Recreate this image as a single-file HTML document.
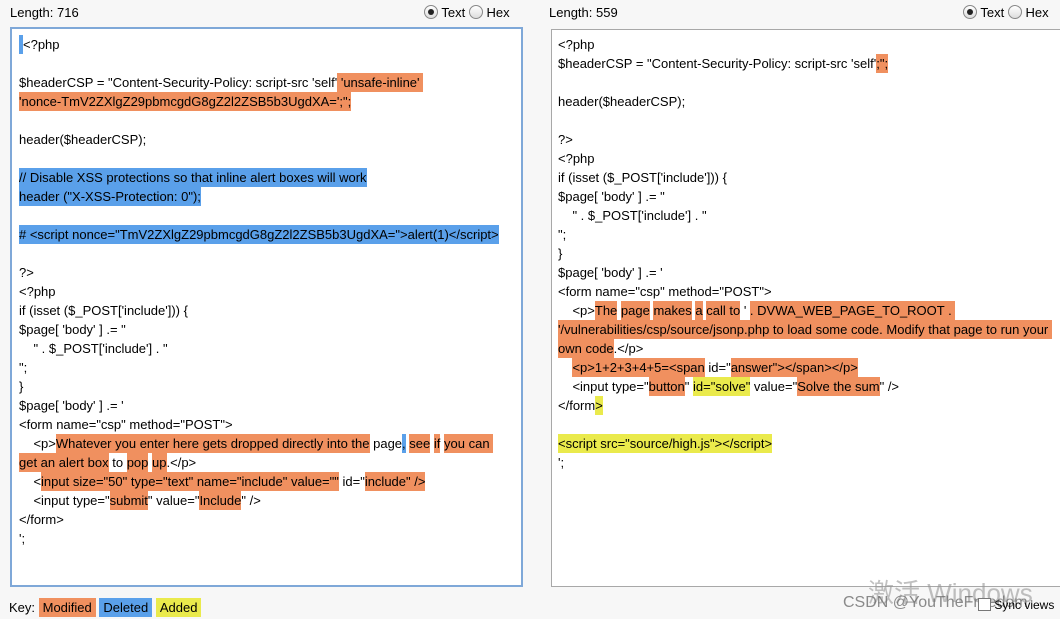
<!DOCTYPE html>
<html><head><meta charset="utf-8"><style>
html,body{margin:0;padding:0}
body{width:1060px;height:619px;background:#f7f7f7;position:relative;overflow:hidden;font-family:"Liberation Sans",Arial,sans-serif;font-size:13px;color:#000}
.a{position:absolute;white-space:pre}
.box{position:absolute;background:#fff}
.L{position:absolute;white-space:pre;height:19px;line-height:19px}
.m{background:#f0905f}.d{background:#5aa0ea}.y{background:#eaea4c}
.m,.d,.y{display:inline-block;height:19px;vertical-align:top}
.radio{display:inline-block;width:12px;height:12px;border:1px solid #888;border-radius:50%;background:linear-gradient(#fff,#ddd);vertical-align:-2px;position:relative}
.radio.on::after{content:"";position:absolute;left:3px;top:3px;width:6px;height:6px;border-radius:50%;background:#222}
</style></head><body>
<div class="a" style="left:10px;top:5px">Length: 716</div>
<div class="a" style="left:424px;top:5px"><span class="radio on"></span> Text <span class="radio"></span> Hex</div>
<div class="a" style="left:549px;top:5px">Length: 559</div>
<div class="a" style="left:963px;top:5px"><span class="radio on"></span> Text <span class="radio"></span> Hex</div>

<div class="box" style="left:10px;top:27px;width:509px;height:556px;border:2px solid #7fa8d8"></div>
<div class="box" style="left:551px;top:29px;width:520px;height:556px;border:1px solid #a8a8a8"></div>

<!-- left -->
<div class="L" style="left:19px;top:35px"><span class="d" style="width:4px"></span>&lt;?php</div>
<div class="L" style="left:19px;top:73px">$headerCSP = "Content-Security-Policy: script-src 'self'<span class="m"> 'unsafe-inline' </span></div>
<div class="L" style="left:19px;top:92px"><span class="m">'nonce-TmV2ZXlgZ29pbmcgdG8gZ2l2ZSB5b3UgdXA=';";</span></div>
<div class="L" style="left:19px;top:130px">header($headerCSP);</div>
<div class="L" style="left:19px;top:168px"><span class="d">// Disable XSS protections so that inline alert boxes will work</span></div>
<div class="L" style="left:19px;top:187px"><span class="d">header ("X-XSS-Protection: 0");</span></div>
<div class="L" style="left:19px;top:225px"><span class="d"># &lt;script nonce="TmV2ZXlgZ29pbmcgdG8gZ2l2ZSB5b3UgdXA="&gt;alert(1)&lt;/script&gt;</span></div>
<div class="L" style="left:19px;top:263px">?&gt;</div>
<div class="L" style="left:19px;top:282px">&lt;?php</div>
<div class="L" style="left:19px;top:301px">if (isset ($_POST['include'])) {</div>
<div class="L" style="left:19px;top:320px">$page[ 'body' ] .= "</div>
<div class="L" style="left:19px;top:339px">    " . $_POST['include'] . "</div>
<div class="L" style="left:19px;top:358px">";</div>
<div class="L" style="left:19px;top:377px">}</div>
<div class="L" style="left:19px;top:396px">$page[ 'body' ] .= '</div>
<div class="L" style="left:19px;top:415px">&lt;form name="csp" method="POST"&gt;</div>
<div class="L" style="left:19px;top:434px">    &lt;p&gt;<span class="m">Whatever you enter here gets dropped directly into the</span> page<span class="d">,</span> <span class="m">see</span> <span class="m">if</span> <span class="m">you can </span></div>
<div class="L" style="left:19px;top:453px"><span class="m">get an alert box</span> to <span class="m">pop</span> <span class="m">up</span>.&lt;/p&gt;</div>
<div class="L" style="left:19px;top:472px">    &lt;<span class="m">input size="50" type="text" name="include" value=""</span> id="<span class="m">include" /&gt;</span></div>
<div class="L" style="left:19px;top:491px">    &lt;input type="<span class="m">submit</span>" value="<span class="m">Include</span>" /&gt;</div>
<div class="L" style="left:19px;top:510px">&lt;/form&gt;</div>
<div class="L" style="left:19px;top:529px">';</div>

<!-- right -->
<div class="L" style="left:558px;top:35px">&lt;?php</div>
<div class="L" style="left:558px;top:54px">$headerCSP = "Content-Security-Policy: script-src 'self'<span class="m">;";</span></div>
<div class="L" style="left:558px;top:92px">header($headerCSP);</div>
<div class="L" style="left:558px;top:130px">?&gt;</div>
<div class="L" style="left:558px;top:149px">&lt;?php</div>
<div class="L" style="left:558px;top:168px">if (isset ($_POST['include'])) {</div>
<div class="L" style="left:558px;top:187px">$page[ 'body' ] .= "</div>
<div class="L" style="left:558px;top:206px">    " . $_POST['include'] . "</div>
<div class="L" style="left:558px;top:225px">";</div>
<div class="L" style="left:558px;top:244px">}</div>
<div class="L" style="left:558px;top:263px">$page[ 'body' ] .= '</div>
<div class="L" style="left:558px;top:282px">&lt;form name="csp" method="POST"&gt;</div>
<div class="L" style="left:558px;top:301px">    &lt;p&gt;<span class="m">The</span> <span class="m">page</span> <span class="m">makes</span> <span class="m">a</span> <span class="m">call to</span> ' <span class="m">. DVWA_WEB_PAGE_TO_ROOT . </span></div>
<div class="L" style="left:558px;top:320px"><span class="m">'/vulnerabilities/csp/source/jsonp.php to load some code. Modify that page to run your </span></div>
<div class="L" style="left:558px;top:339px"><span class="m">own code</span>.&lt;/p&gt;</div>
<div class="L" style="left:558px;top:358px">    <span class="m">&lt;p&gt;1+2+3+4+5=&lt;span</span> id="<span class="m">answer"&gt;&lt;/span&gt;&lt;/p&gt;</span></div>
<div class="L" style="left:558px;top:377px">    &lt;input type="<span class="m">button</span>" <span class="y">id="solve"</span> value="<span class="m">Solve the sum</span>" /&gt;</div>
<div class="L" style="left:558px;top:396px">&lt;/form<span class="y">&gt;</span></div>
<div class="L" style="left:558px;top:434px"><span class="y">&lt;script src="source/high.js"&gt;&lt;/script&gt;</span></div>
<div class="L" style="left:558px;top:453px">';</div>

<!-- key -->
<div class="a" style="left:9px;top:598px;line-height:19px">Key: <span class="m" style="padding:0 4px;line-height:19px">Modified</span> <span class="d" style="padding:0 4px;line-height:19px">Deleted</span> <span class="y" style="padding:0 4px;line-height:19px">Added</span></div>

<div class="a" style="left:868px;top:573px;font-size:26px;color:rgba(150,150,150,0.6)">激活 Windows</div>
<div class="a" style="left:843px;top:594px;font-size:16px;color:rgba(110,110,110,0.8)">CSDN @YouTheFreedom</div>
<div class="a" style="left:978px;top:598px;font-size:12px"><span style="display:inline-block;width:11px;height:11px;border:1px solid #777;background:#fff;vertical-align:-2px"></span> Sync views</div>
</body></html>
